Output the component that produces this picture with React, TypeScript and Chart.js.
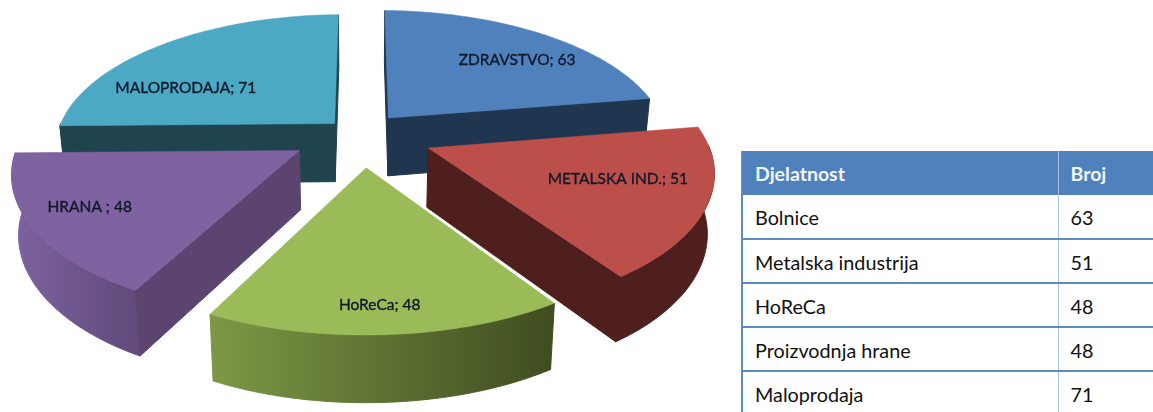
import React, { useEffect, useRef } from "react";
import { Chart, registerables } from "chart.js";

Chart.register(...registerables);

const categories = ["ZDRAVSTVO", "METALSKA IND.", "HoReCa", "HRANA ", "MALOPRODAJA"];
const counts = [63, 51, 48, 48, 71];
const topColors = ["#4F81BD", "#BD4F4B", "#9BBB59", "#7F62A0", "#4BA9C4"];
const wallColors = ["#1F3550", "#4E1F1D", "#3F4C20", "#5B4570", "#1F444E"];
const sideStart = ["#1F3550", "#4E1F1D", "#7D9845", "#7D63A0", "#1F444E"];
const sideEnd = ["#1F3550", "#4E1F1D", "#3F4C20", "#5F4A7A", "#1F444E"];
const explode = [0.15, 0.2625, 0.263, 0.26, 0.122];
const explodeTilt = [0, 0.06, 0, 0, -0.166];
const labelRadius = [0.72, 0.677, 0.84, 0.783, 0.645];
const labelSweep = [0.57, 0.44, 0.51, 0.53, 0.31];

const tableHead = ["Djelatnost", "Broj"];
const tableNames = ["Bolnice", "Metalska industrija", "HoReCa", "Proizvodnja hrane", "Maloprodaja"];
const tableValues = [63, 51, 48, 48, 71];

const VIEW = { cx: 362, cy: 132.5, a: 277, b: 129, p: 0.16, depth: 58.5, shrink: 0.98, bulge: 0.008 };

type P = { x: number; y: number };

function project(u: number, v: number, bottom: boolean): P {
  const w = 1 / (1 - VIEW.p * v);
  const x = VIEW.a * u * w;
  const y = VIEW.cy + VIEW.b * v * w;
  if (!bottom) return { x: VIEW.cx + x, y };
  return { x: VIEW.cx + x * VIEW.shrink, y: y + VIEW.depth * Math.pow(w, 0.65) };
}

function fillPoly(ctx: CanvasRenderingContext2D, pts: P[], fill: string | CanvasGradient, lw = 0.5) {
  ctx.beginPath();
  pts.forEach((q, i) => (i ? ctx.lineTo(q.x, q.y) : ctx.moveTo(q.x, q.y)));
  ctx.closePath();
  ctx.fillStyle = fill;
  ctx.fill();
  ctx.strokeStyle = fill;
  ctx.lineWidth = lw;
  ctx.stroke();
}

function area(pts: P[]) {
  let s = 0;
  pts.forEach((q, i) => {
    const n = pts[(i + 1) % pts.length];
    s += q.x * n.y - n.x * q.y;
  });
  return s;
}

const pie3d = {
  id: "pie3d",
  beforeDatasetsDraw(chart: any) {
    const ctx: CanvasRenderingContext2D = chart.ctx;
    const arcs = chart.getDatasetMeta(0).data;
    const info = arcs.map((arc: any, i: number) => {
      const mid = (arc.startAngle + arc.endAngle) / 2 + explodeTilt[i];
      return { arc, i, ou: explode[i] * Math.cos(mid), ov: explode[i] * Math.sin(mid) };
    });
    const order = [...info].sort((p: any, q: any) => p.ov - q.ov);
    order.forEach(({ arc, i, ou, ov }: any) => {
      const s = arc.startAngle;
      const e = arc.endAngle;
      const at = (ang: number, r: number, bottom: boolean) =>
        project(ou + r * Math.cos(ang), ov + r * Math.sin(ang), bottom);
      const rim = (ang: number, bottom: boolean) =>
        at(ang, 1 - VIEW.bulge * Math.sin((Math.PI * (ang - s)) / (e - s)), bottom);

      const steps = 80;
      const vis: number[] = [];
      for (let k = 0; k <= steps; k++) {
        const ang = s + ((e - s) * k) / steps;
        if (Math.sin(ang) > -0.02) vis.push(ang);
      }
      if (vis.length > 1) {
        const band = [...vis.map((g) => rim(g, false)), ...[...vis].reverse().map((g) => rim(g, true))];
        const xs = band.map((q) => q.x);
        const grad = ctx.createLinearGradient(Math.min(...xs), 0, Math.max(...xs), 0);
        grad.addColorStop(0, sideStart[i]);
        grad.addColorStop(1, sideEnd[i]);
        fillPoly(ctx, band, grad, 1);
      }
      const wallA = [at(s, 0, false), at(s, 1, false), at(s, 1, true), at(s, 0, true)];
      const wallB = [at(e, 0, false), at(e, 1, false), at(e, 1, true), at(e, 0, true)];
      if (area(wallA) < 0) fillPoly(ctx, wallA, wallColors[i], 1);
      if (area(wallB) > 0) fillPoly(ctx, wallB, wallColors[i], 1);

      const top: P[] = [at(s, 0, false)];
      for (let k = 0; k <= steps; k++) top.push(rim(s + ((e - s) * k) / steps, false));
      fillPoly(ctx, top, arc.options.backgroundColor);
    });

    ctx.save();
    ctx.font = "15.5px Lato";
    ctx.fillStyle = "#10182A";
    ctx.strokeStyle = "#10182A";
    ctx.lineWidth = 0.35;
    ctx.textAlign = "center";
    ctx.textBaseline = "middle";
    info.forEach(({ arc, i, ou, ov }: any) => {
      const ang = arc.startAngle + (arc.endAngle - arc.startAngle) * labelSweep[i];
      const q = project(ou + labelRadius[i] * Math.cos(ang), ov + labelRadius[i] * Math.sin(ang), false);
      const text = `${categories[i]}; ${counts[i]}`;
      ctx.fillText(text, q.x, q.y);
      ctx.strokeText(text, q.x, q.y);
    });
    ctx.restore();
    return false;
  },
};

export default function App() {
  const ref = useRef<HTMLCanvasElement>(null);
  useEffect(() => {
    const chart = new Chart(ref.current!, {
      type: "pie",
      data: {
        labels: categories,
        datasets: [{ data: counts, backgroundColor: topColors, borderWidth: 0 }],
      },
      options: {
        responsive: false,
        animation: false,
        plugins: { legend: { display: false }, tooltip: { enabled: false } },
      },
      plugins: [pie3d],
    } as any);
    return () => chart.destroy();
  }, []);

  const line = "2px solid #5C8AC2";
  const col = "1px solid #A9C0DE";
  return (
    <div style={{ position: "absolute", left: 0, top: 0, width: 1153, height: 412, overflow: "hidden", background: "#fff", filter: "blur(0.5px)" }}>
      <canvas ref={ref} width={735} height={412} style={{ position: "absolute", left: 0, top: 0 }} />
      <table
        style={{
          position: "absolute", left: 741, top: 151, width: 430, tableLayout: "fixed",
          borderCollapse: "collapse", fontFamily: "Lato", fontSize: 19.8, color: "#111", borderLeft: "2px solid #5C8AC2",
        }}
      >
        <colgroup>
          <col style={{ width: 316 }} />
          <col style={{ width: 114 }} />
        </colgroup>
        <thead>
          <tr style={{ height: 44, background: "#4F81BD", color: "#F2F6FB", fontWeight: 700, fontSize: 19.5 }}>
            {tableHead.map((h, i) => (
              <th key={h} style={{ textAlign: "left", padding: "0 0 0 12px", borderLeft: i ? col : undefined }}>{h}</th>
            ))}
          </tr>
        </thead>
        <tbody>
          {tableNames.map((n, i) => (
            <tr key={n} style={{ height: 44, borderBottom: line }}>
              <td style={{ padding: "1px 0 0 12px" }}>{n}</td>
              <td style={{ padding: "1px 0 0 12px", borderLeft: col }}>{tableValues[i]}</td>
            </tr>
          ))}
        </tbody>
      </table>
    </div>
  );
}
